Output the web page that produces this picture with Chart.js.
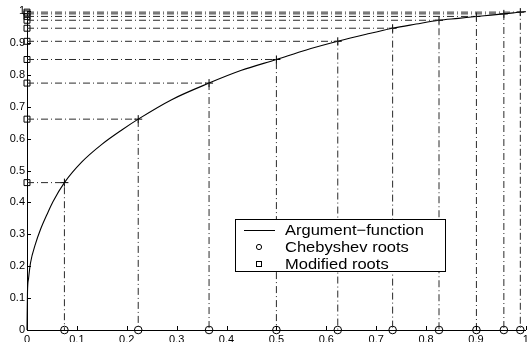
<!DOCTYPE html>
<html>
<head>
<meta charset="utf-8">
<script src="https://cdn.jsdelivr.net/npm/chart.js@4"></script>
<style>
  html, body { margin: 0; padding: 0; background: #fff; }
  #wrap { width: 531px; height: 342px; }
</style>
</head>
<body>
<div id="wrap"><canvas id="c" width="531" height="342"></canvas></div>
<script>
// Chebyshev roots on [0,1] and their images under the argument function
const chebRoots = [0.075, 0.223, 0.365, 0.5, 0.623, 0.733, 0.826, 0.901, 0.956, 0.989];
const modRoots  = [0.462, 0.661, 0.774, 0.848, 0.905, 0.946, 0.971, 0.983, 0.991, 0.9965];

// Sampled argument function
const curveX = [0, 0.001, 0.003, 0.007, 0.017, 0.027, 0.04, 0.052, 0.075, 0.11, 0.15, 0.19, 0.223,
                0.29, 0.365, 0.43, 0.5, 0.56, 0.623, 0.68, 0.733, 0.78, 0.826, 0.865, 0.901,
                0.93, 0.956, 0.975, 0.989, 1];
const curveY = [0, 0.12, 0.16, 0.21, 0.27, 0.315, 0.362, 0.402, 0.462, 0.527, 0.582, 0.627, 0.661,
                0.722, 0.774, 0.814, 0.848, 0.878, 0.905, 0.927, 0.946, 0.959, 0.971, 0.977, 0.983,
                0.987, 0.991, 0.994, 0.9965, 0.998];

const tickValues = [0, 0.1, 0.2, 0.3, 0.4, 0.5, 0.6, 0.7, 0.8, 0.9, 1];
const legendLabels = ['Argument\u2212function', 'Chebyshev roots', 'Modified roots'];

const FONT = '"Liberation Sans", Arial, Helvetica, sans-serif';

// dash-dot guides: from the y axis across to the curve, then down to the x axis
const guideSets = chebRoots.map((x, i) => ({
  type: 'line',
  data: [{x: 0, y: modRoots[i]}, {x: x, y: modRoots[i]}, {x: x, y: 0}],
  borderColor: '#2a2a2a',
  borderWidth: 1,
  borderDash: [7, 3, 1, 3],
  pointRadius: 0,
  tension: 0,
  fill: false,
  clip: false
}));

const datasets = [
  ...guideSets,
  {
    label: legendLabels[0],
    type: 'line',
    data: curveX.map((x, i) => ({x: x, y: curveY[i]})),
    borderColor: '#000',
    borderWidth: 1.1,
    pointRadius: 0,
    cubicInterpolationMode: 'monotone',
    fill: false,
    clip: false
  },
  {
    // crosses on the curve
    type: 'scatter',
    data: chebRoots.map((x, i) => ({x: x, y: modRoots[i]})),
    pointStyle: 'cross',
    pointRadius: 4,
    borderColor: '#000',
    borderWidth: 1,
    backgroundColor: 'transparent',
    clip: false
  },
  {
    label: legendLabels[1],
    type: 'scatter',
    data: chebRoots.map(x => ({x: x, y: 0})),
    pointStyle: 'circle',
    pointRadius: 3.8,
    borderColor: '#000',
    borderWidth: 1,
    backgroundColor: 'transparent',
    clip: false
  },
  {
    label: legendLabels[2],
    type: 'scatter',
    data: modRoots.map(y => ({x: 0, y: y})),
    pointStyle: 'rect',
    pointRadius: 4.2,
    borderColor: '#000',
    borderWidth: 1,
    backgroundColor: 'transparent',
    clip: false
  }
];

// inward tick marks on both axes
const innerTicks = {
  id: 'innerTicks',
  afterDatasetsDraw(chart) {
    const {ctx, scales: {x, y}, chartArea: a} = chart;
    ctx.save();
    ctx.strokeStyle = '#000';
    ctx.lineWidth = 1;
    ctx.beginPath();
    tickValues.forEach(v => {
      const px = Math.round(x.getPixelForValue(v)) + 0.5;
      ctx.moveTo(px, a.bottom);
      ctx.lineTo(px, a.bottom - 4);
      const py = Math.round(y.getPixelForValue(v)) + 0.5;
      ctx.moveTo(a.left, py);
      ctx.lineTo(a.left + 4, py);
    });
    ctx.stroke();
    ctx.restore();
  }
};

// boxed legend placed inside the plot area
const boxLegend = {
  id: 'boxLegend',
  afterDraw(chart) {
    const {ctx} = chart;
    const bx = 235.5, by = 219.5, bw = 210, bh = 52;
    ctx.save();
    ctx.fillStyle = '#fff';
    ctx.fillRect(bx, by, bw, bh);
    ctx.strokeStyle = '#000';
    ctx.lineWidth = 1;
    ctx.strokeRect(bx, by, bw, bh);

    const rows = [230, 247, 264];
    const mx = 259;
    // line sample
    ctx.beginPath();
    ctx.moveTo(244, rows[0] + 0.5);
    ctx.lineTo(275, rows[0] + 0.5);
    ctx.stroke();
    // circle sample
    ctx.beginPath();
    ctx.arc(mx, rows[1], 2.6, 0, Math.PI * 2);
    ctx.stroke();
    // square sample
    ctx.strokeRect(mx - 2.5, rows[2] - 2.5, 5, 5);

    ctx.fillStyle = '#000';
    ctx.font = '15px ' + FONT;
    ctx.textBaseline = 'middle';
    ctx.textAlign = 'left';
    legendLabels.forEach((t, i) => {
      ctx.save();
      ctx.translate(285, rows[i] + 0.5);
      ctx.scale(1.1, 1);
      ctx.fillText(t, 0, 0);
      ctx.restore();
    });
    ctx.restore();
  }
};

const axisCommon = {
  type: 'linear',
  min: 0,
  max: 1,
  grid: { display: true, drawOnChartArea: false, drawTicks: false },
  border: { display: true, color: '#000', width: 1 },
};

new Chart(document.getElementById('c'), {
  type: 'scatter',
  data: { datasets },
  options: {
    responsive: false,
    animation: false,
    devicePixelRatio: 1,
    layout: { padding: { top: 11, right: 1, left: 0, bottom: 0 } },
    plugins: { legend: { display: false }, tooltip: { enabled: false } },
    scales: {
      x: {
        ...axisCommon,
        position: 'bottom',
        afterBuildTicks: s => { s.ticks = tickValues.map(v => ({value: v})); },
        afterFit: s => { s.height = 12; s.paddingLeft = 0; s.paddingRight = 0; },
        ticks: {
          autoSkip: false, maxRotation: 0, padding: 3, color: '#000',
          font: { family: FONT, size: 11 },
          callback: v => String(Math.round(v * 10) / 10)
        }
      },
      y: {
        ...axisCommon,
        position: 'left',
        afterBuildTicks: s => { s.ticks = tickValues.map(v => ({value: v})); },
        afterFit: s => { s.width = 27; s.paddingTop = 0; s.paddingBottom = 0; },
        ticks: {
          autoSkip: false, padding: 2, color: '#000',
          font: { family: FONT, size: 11 },
          callback: v => String(Math.round(v * 10) / 10)
        }
      }
    }
  },
  plugins: [innerTicks, boxLegend]
});
</script>
</body>
</html>
